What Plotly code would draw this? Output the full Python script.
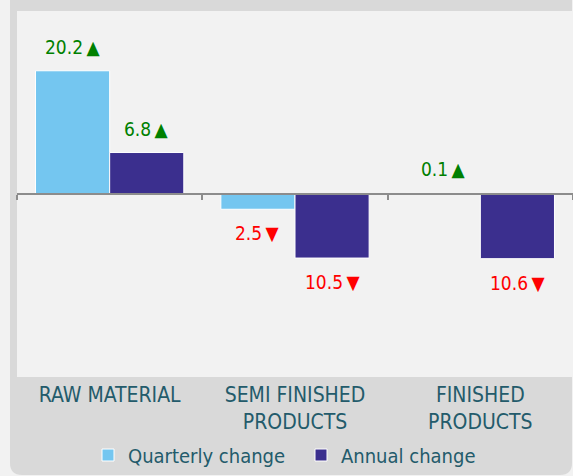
import plotly.graph_objects as go

categories = ["RAW MATERIAL", "SEMI FINISHED<br>PRODUCTS", "FINISHED<br>PRODUCTS"]
quarterly = [20.2, -2.5, 0.1]
annual = [6.8, -10.5, -10.6]
series_names = ["Quarterly change", "Annual change"]
series_colors = ["#74C6F0", "#3B2F8E"]

W, H = 573, 476
ML, MR, MT, MB = 17, 0, 11, 99
PW, PH = W - ML - MR, H - MT - MB
BARGAP = 0.2
YR = [-30, 30]

FONT = "DejaVu Sans Condensed, DejaVu Sans"
TEXT_COL = "#235B6B"

fig = go.Figure()
for name, vals, col in zip(series_names, [quarterly, annual], series_colors):
    fig.add_trace(go.Bar(
        x=categories, y=vals, name=name,
        marker=dict(color=col, line=dict(color="white", width=1)),
        hoverinfo="skip",
    ))

# value labels
cat_px = PW / len(categories)
bar_px = cat_px * (1 - BARGAP) / 2
for k, vals in enumerate([quarterly, annual]):
    shift = (k - 0.5) * bar_px
    for c, v in zip(categories, vals):
        up = v >= 0
        fig.add_annotation(
            x=c, y=v, xref="x", yref="y",
            text=f"{abs(v):.1f}\u2009{'▲' if up else '▼'}",
            showarrow=False, xshift=shift, yshift=24 if up else -24,
            yanchor="middle", xanchor="center",
            font=dict(family=FONT, size=19, color="#008000" if up else "#FF0000"),
        )

# rounded frame
def px2x(p):
    return (p - ML) / PW

def py2y(p):
    return (H - MB - p) / PH

x0, x1, yb, yt = 10, 572, 475, -20
r = 12
path = (f"M{px2x(x0)},{py2y(yt)} "
        f"L{px2x(x0)},{py2y(yb - r)} "
        f"Q{px2x(x0)},{py2y(yb)} {px2x(x0 + r)},{py2y(yb)} "
        f"L{px2x(x1 - r)},{py2y(yb)} "
        f"Q{px2x(x1)},{py2y(yb)} {px2x(x1)},{py2y(yb - r)} "
        f"L{px2x(x1)},{py2y(yt)} Z")
fig.add_shape(type="path", path=path, xref="paper", yref="paper",
              fillcolor="#D9D9D9", line=dict(width=0), layer="below")
# plot-area background
fig.add_shape(type="rect", xref="x", yref="y", x0=-0.5, x1=len(categories) - 0.5,
              y0=YR[0], y1=YR[1], fillcolor="#F2F2F2", line=dict(width=0), layer="below")

fig.update_layout(
    width=W, height=H,
    margin=dict(l=ML, r=MR, t=MT, b=MB, pad=0, autoexpand=False),
    paper_bgcolor="#F2F2F2", plot_bgcolor="rgba(0,0,0,0)",
    barmode="group", bargap=BARGAP, bargroupgap=0,
    font=dict(family=FONT, size=21, color=TEXT_COL),
    showlegend=True,
    legend=dict(orientation="h", x=px2x(88), xanchor="left", y=py2y(455), yanchor="middle",
                font=dict(family=FONT, size=20, color=TEXT_COL),
                entrywidth=168, entrywidthmode="pixels",
                bgcolor="rgba(0,0,0,0)", itemclick=False, traceorder="normal"),
    xaxis=dict(showline=False, ticks="", showgrid=False, zeroline=False,
               tickfont=dict(family=FONT, size=21, color=TEXT_COL),
               ticklabelstandoff=3,
               range=[-0.5, len(categories) - 0.5], fixedrange=True),
    xaxis2=dict(overlaying="x", anchor="free", position=0.5, side="bottom",
                type="linear", range=[-0.5, 2.5],
                tickvals=[-0.5, 0.5, 1.5, 2.5], showticklabels=False,
                ticks="outside", ticklen=5, tickwidth=2, tickcolor="#8C8C8C",
                showline=True, linecolor="#8C8C8C", linewidth=2,
                showgrid=False, zeroline=False, fixedrange=True),
    yaxis=dict(range=YR, visible=False, showgrid=False, zeroline=False, fixedrange=True),
)
# invisible trace to activate xaxis2
fig.add_trace(go.Scatter(x=[-0.5, 2.5], y=[0, 0], xaxis="x2", mode="none",
                         showlegend=False, hoverinfo="skip"))

fig.write_html("out.html", config={"displayModeBar": False},
               post_script="document.body.style.margin='0';")
